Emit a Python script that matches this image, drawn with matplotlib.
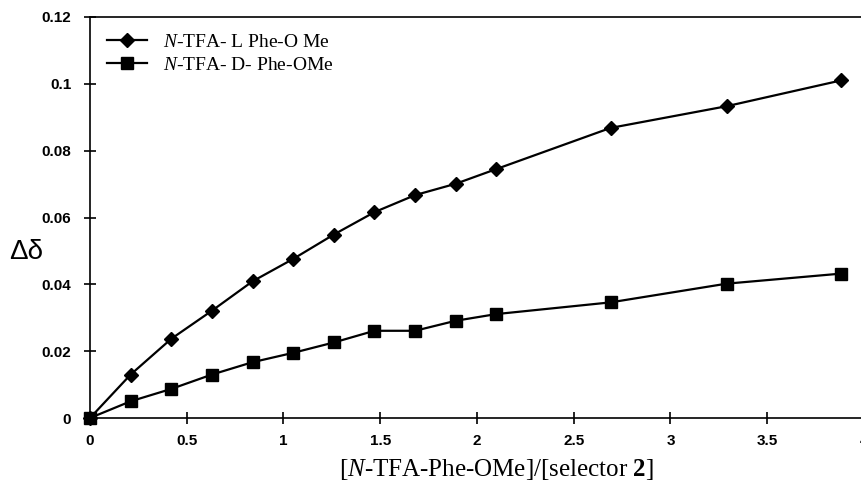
import numpy as np
import matplotlib.pyplot as plt

# data
ratio = [0, 0.21, 0.42, 0.63, 0.84, 1.05, 1.26, 1.47, 1.68, 1.89, 2.1, 2.69, 3.29, 3.88]
delta_L = [0, 0.0130, 0.0237, 0.0321, 0.0409, 0.0476, 0.0549, 0.0616, 0.0667, 0.0701,
           0.0745, 0.0868, 0.0933, 0.1010]
delta_D = [0, 0.0050, 0.0087, 0.0130, 0.0167, 0.0195, 0.0226, 0.0261, 0.0261, 0.0291,
           0.0311, 0.0346, 0.0402, 0.0432]
xticks = [0, 0.5, 1, 1.5, 2, 2.5, 3, 3.5, 4]
yticks = [0, 0.02, 0.04, 0.06, 0.08, 0.1, 0.12]
ytick_labels = ['0', '0.02', '0.04', '0.06', '0.08', '0.1', '0.12']

# serif mathtext so the italic N and bold 2 match the Times-like labels
plt.rcParams['mathtext.fontset'] = 'custom'
plt.rcParams['mathtext.rm'] = 'Liberation Serif'
plt.rcParams['mathtext.it'] = 'Liberation Serif:italic'
plt.rcParams['mathtext.bf'] = 'Liberation Serif:bold'

fig = plt.figure(figsize=(8.62, 4.88), dpi=100)
ax = fig.add_axes([90 / 862, 1 - 418 / 488, 774 / 862, 401 / 488])

ax.plot(ratio, delta_L, color='black', lw=1.6, marker='D', markersize=7.5,
        label='$\\mathit{N}$-TFA- L Phe-O Me', clip_on=False, zorder=3)
ax.plot(ratio, delta_D, color='black', lw=1.6, marker='s', markersize=8,
        label='$\\mathit{N}$-TFA- D- Phe-OMe', clip_on=False, zorder=3)

ax.set_xlim(0, 4)
ax.set_ylim(0, 0.12)
ax.set_xticks(xticks)
ax.set_xticklabels([('%g' % t) for t in xticks])
ax.set_yticks(yticks)
ax.set_yticklabels(ytick_labels)

for lab in ax.get_xticklabels() + ax.get_yticklabels():
    lab.set_family('Liberation Sans')
    lab.set_fontweight('bold')
    lab.set_fontsize(11)

ax.tick_params(axis='both', direction='inout', length=9, width=1.2, color='black')
ax.tick_params(axis='x', pad=7)
ax.tick_params(axis='y', pad=9)
for sp in ax.spines.values():
    sp.set_linewidth(1.2)

# axis titles
fig.text(496 / 862, 1 - 470 / 488, '[$\\mathit{N}$-TFA-Phe-OMe]/[selector $\\mathbf{2}$]',
         family='Liberation Serif', fontsize=18, ha='center', va='center')
fig.text(26 / 862, 1 - 252 / 488, 'Δδ', family='Liberation Sans', fontsize=20,
         ha='center', va='center')

leg = ax.legend(loc='upper left', bbox_to_anchor=(0.0, 1.0), frameon=False,
                prop={'family': 'Liberation Serif', 'size': 14}, handlelength=2.1,
                handletextpad=0.8, labelspacing=0.28, borderaxespad=0.45)

fig.savefig('out.png', dpi=100)
